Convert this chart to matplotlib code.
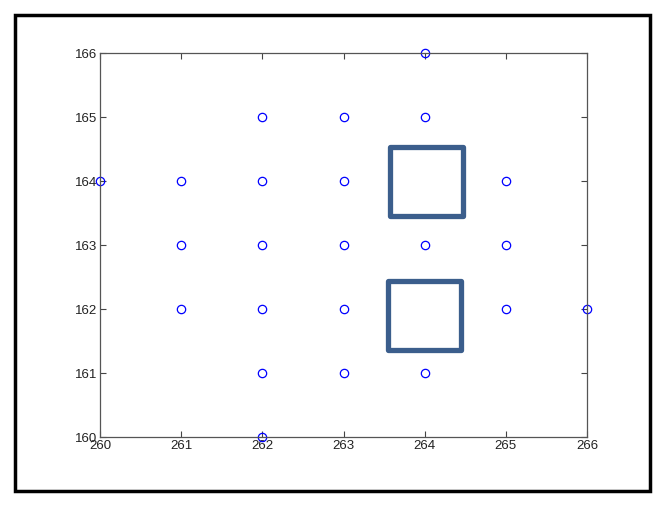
import matplotlib
matplotlib.use('Agg')
from matplotlib import pyplot as plt
from matplotlib.patches import Rectangle
import numpy as np

plt.rcParams['font.family'] = ['Liberation Sans', 'DejaVu Sans']

# points (x, y)
xs = [260, 261, 261, 261, 262, 262, 262, 262, 262, 262,
      263, 263, 263, 263, 263, 264, 264, 264, 264,
      265, 265, 265, 266]
ys = [164, 164, 163, 162, 165, 164, 163, 162, 161, 160,
      165, 164, 163, 162, 161, 166, 165, 163, 161,
      164, 163, 162, 162]

# highlight boxes: (x0, y0, w, h)
boxes = [(263.57, 163.45, 0.90, 1.08),
         (263.55, 161.36, 0.90, 1.08)]

fig = plt.figure(figsize=(6.66, 5.08), dpi=100)
fig.patches.append(Rectangle((15/666, 1 - 491/508), 635/666, 476/508,
                             transform=fig.transFigure, fill=False,
                             edgecolor='black', linewidth=2.5))
ax = fig.add_axes([100/666, 1 - 437/508, 487/666, 384/508])
ax.plot(xs, ys, 'o', mfc='none', mec='blue', ms=6, mew=0.9, clip_on=False)
for x0, y0, w, h in boxes:
    ax.add_patch(Rectangle((x0, y0), w, h, fill=False, edgecolor='#3b5e8c',
                           linewidth=3.8, joinstyle='round'))
ax.set_xlim(260, 266)
ax.set_ylim(160, 166)
ax.set_xticks(np.arange(260, 267))
ax.set_yticks(np.arange(160, 167))
ax.tick_params(direction='in', top=True, right=True, length=4, width=0.8,
               labelsize=9.5, color='#444444', pad=2, labelcolor='#222222')
for s in ax.spines.values():
    s.set_color('#555555')
    s.set_linewidth(0.9)

fig.savefig('out.png', dpi=100)
